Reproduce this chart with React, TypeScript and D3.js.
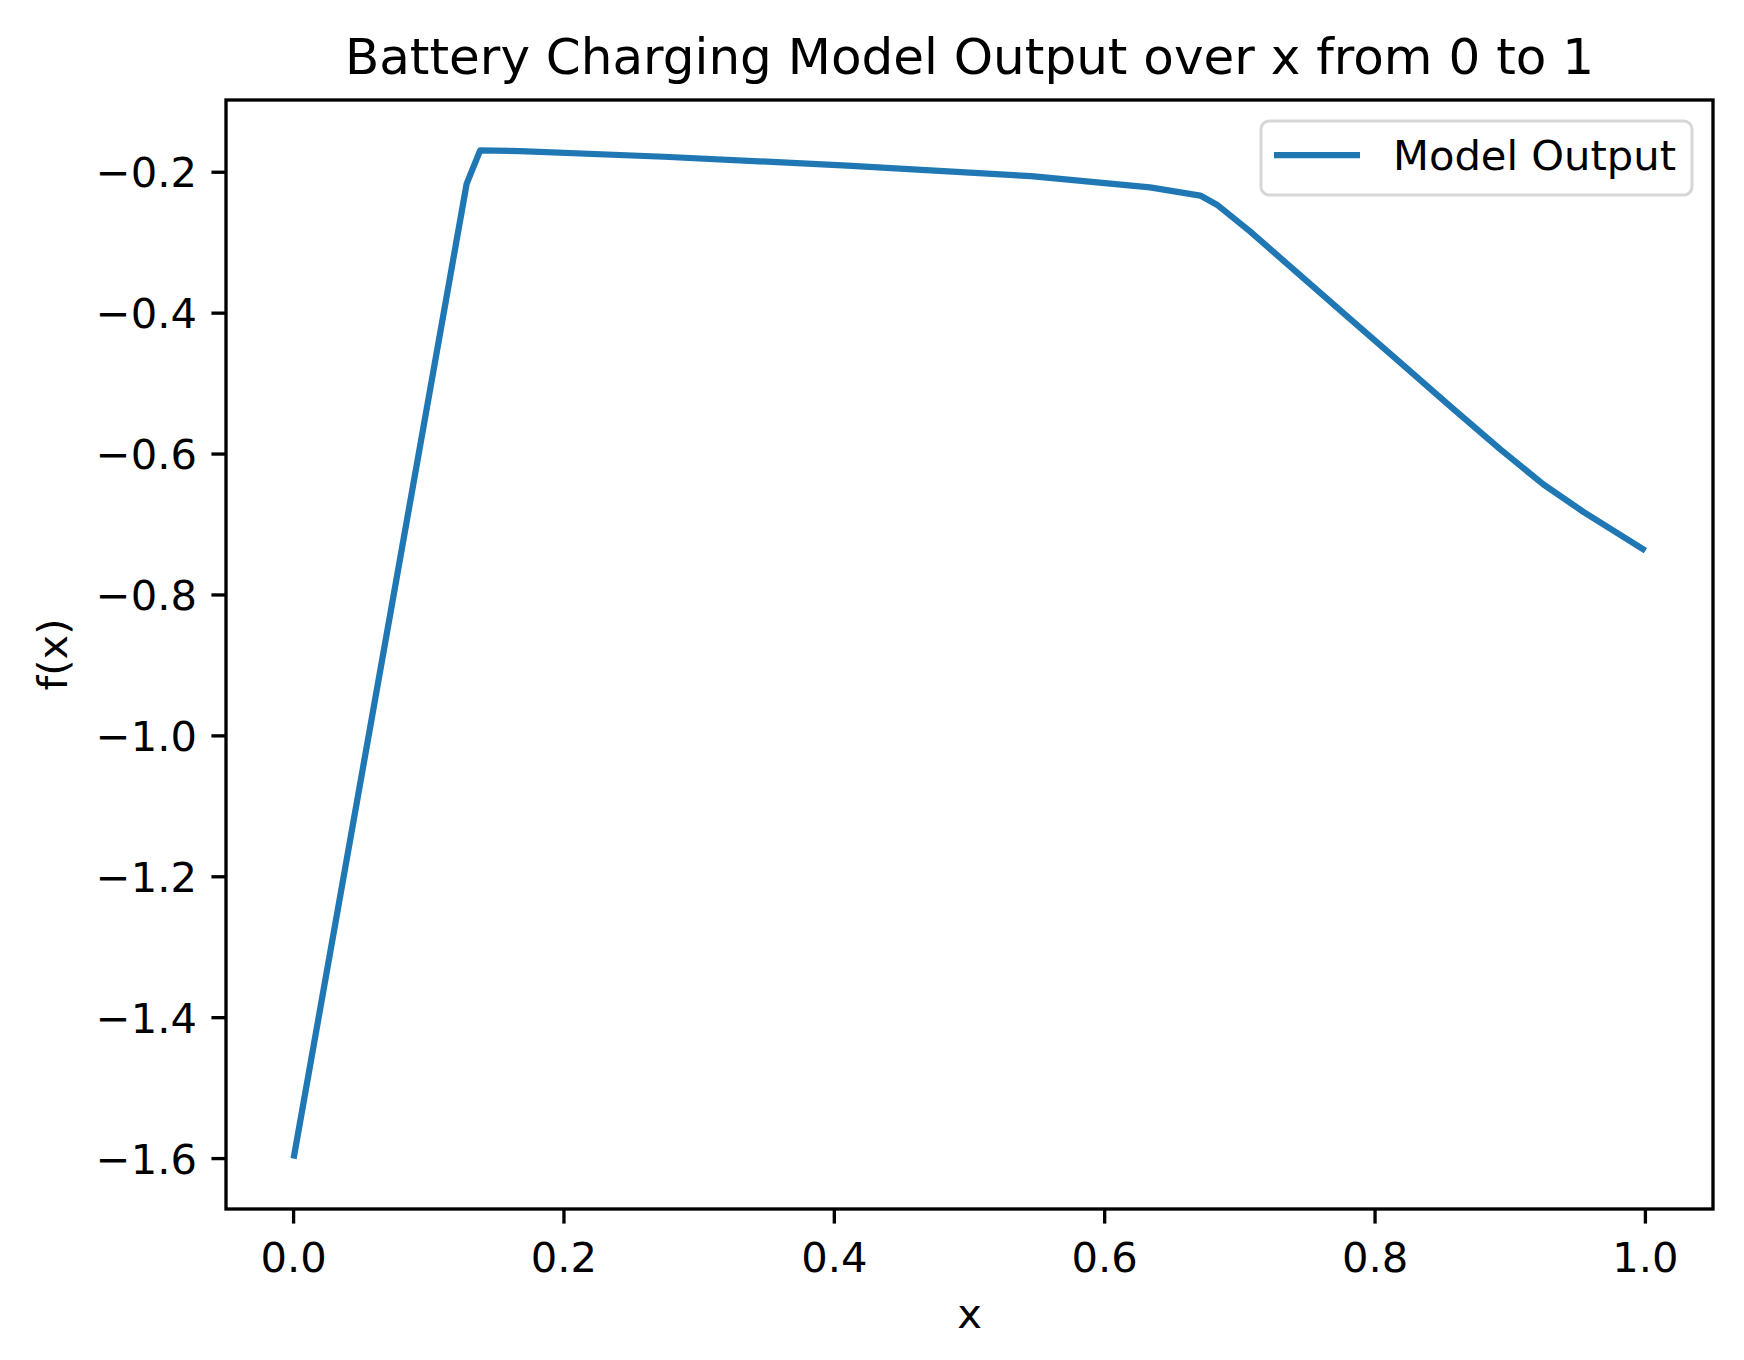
import React from "react";
import * as d3 from "d3";

const xValues = [0, 0.128, 0.138, 0.1675, 0.274, 0.4096, 0.5455, 0.6335, 0.6707, 0.683, 0.7075, 0.7445, 0.7815, 0.8185, 0.8555, 0.8925, 0.9245, 0.9541, 1.0];
const yValues = [-1.6, -0.2165, -0.169, -0.170, -0.178, -0.1905, -0.2055, -0.2215, -0.2331, -0.246, -0.284, -0.346, -0.408, -0.470, -0.532, -0.593, -0.643, -0.682, -0.737];
const xTicks = [0, 0.2, 0.4, 0.6, 0.8, 1.0];
const yTicks = [-1.6, -1.4, -1.2, -1.0, -0.8, -0.6, -0.4, -0.2];
const titleText = "Battery Charging Model Output over x from 0 to 1";
const xLabel = "x";
const yLabel = "f(x)";
const seriesName = "Model Output";

const W = 1744;
const H = 1360;
const L = 226, R = 1713, T = 100, B = 1209;
const FONT = "DejaVu Sans";
const FS = 41.67;
const COLOR = "#1f77b4";

export default function App() {
  const xMin = d3.min(xValues)!, xMax = d3.max(xValues)!;
  const yMin = d3.min(yValues)!, yMax = d3.max(yValues)!;
  const xPad = (xMax - xMin) * 0.05;
  const yPad = (yMax - yMin) * 0.05;
  const x = d3.scaleLinear().domain([xMin - xPad, xMax + xPad]).range([L, R]);
  const y = d3.scaleLinear().domain([yMin - yPad, yMax + yPad]).range([B, T]);
  const pts = xValues.map((v, i) => [v, yValues[i]] as [number, number]);
  const line = d3.line<[number, number]>().x((d) => x(d[0])).y((d) => y(d[1]));
  const tickLen = 14.58;
  const sw = 3.33;
  const fmt = (v: number) => (v < 0 ? "\u2212" : "") + Math.abs(v).toFixed(1);

  return (
    <svg width={W} height={H} style={{ position: "absolute", left: 0, top: 0, background: "#fff" }} fontFamily={FONT}>
      <rect x={0} y={0} width={W} height={H} fill="#fff" />
      <text x={(L + R) / 2} y={74} fontSize={50} textAnchor="middle" fill="#000">{titleText}</text>
      <path d={line(pts)!} fill="none" stroke={COLOR} strokeWidth={6.25} strokeLinejoin="round" strokeLinecap="butt" />
      <rect x={L} y={T} width={R - L} height={B - T} fill="none" stroke="#000" strokeWidth={sw} />
      {xTicks.map((t) => (
        <g key={"x" + t}>
          <line x1={x(t)} x2={x(t)} y1={B} y2={B + tickLen} stroke="#000" strokeWidth={sw} />
          <text x={x(t)} y={1272} fontSize={FS} textAnchor="middle" fill="#000">{t.toFixed(1)}</text>
        </g>
      ))}
      {yTicks.map((t) => (
        <g key={"y" + t}>
          <line x1={L - tickLen} x2={L} y1={y(t)} y2={y(t)} stroke="#000" strokeWidth={sw} />
          <text x={197} y={y(t) + 15} fontSize={FS} textAnchor="end" fill="#000">{fmt(t)}</text>
        </g>
      ))}
      <text x={(L + R) / 2} y={1328} fontSize={FS} textAnchor="middle" fill="#000">{xLabel}</text>
      <text transform={`translate(67, ${(T + B) / 2}) rotate(-90)`} fontSize={FS} textAnchor="middle" fill="#000">{yLabel}</text>
      <rect x={1261} y={121} width={431} height={74} rx={8.3} ry={8.3} fill="#fff" fillOpacity={0.8} stroke="#d6d6d6" strokeWidth={3} />
      <line x1={1274} x2={1360} y1={155} y2={155} stroke={COLOR} strokeWidth={6.25} />
      <text x={1393} y={170} fontSize={FS} fill="#000">{seriesName}</text>
    </svg>
  );
}
